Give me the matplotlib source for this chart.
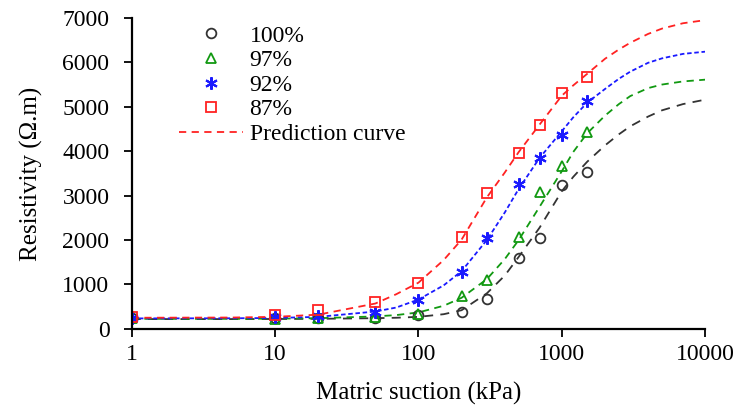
import matplotlib
matplotlib.use('Agg')
import matplotlib.pyplot as plt
from matplotlib.lines import Line2D

plt.rcParams['font.family'] = ['Liberation Serif', 'DejaVu Serif']

# Measured resistivity at each matric suction (kPa)
suction = [1, 10, 20, 50, 100, 200, 300, 500, 700, 1000, 1500]
res_100 = [240, 240, 250, 250, 320, 380, 670, 1590, 2040, 3240, 3540]
res_97 = [240, 225, 240, 260, 340, 740, 1100, 2070, 3070, 3670, 4440]
res_92 = [250, 265, 280, 390, 660, 1290, 2040, 3270, 3840, 4370, 5120]
res_87 = [260, 310, 420, 615, 1040, 2060, 3050, 3960, 4580, 5320, 5670]

# Prediction curves sampled along the suction range
curve_suction = [1, 5, 10, 20, 50, 70, 100, 150, 200, 300, 400, 500, 700, 1000,
                 1200, 1500, 2000, 2500, 3000, 4000, 5000, 7000, 10000]
pred_100 = [220, 220, 222, 226, 240, 250, 270, 330, 420, 800, 1200, 1620, 2280,
            3100, 3420, 3760, 4130, 4380, 4560, 4780, 4920, 5060, 5160]
pred_97 = [225, 226, 230, 240, 280, 310, 370, 520, 700, 1120, 1570, 2000, 2750,
           3550, 3980, 4400, 4800, 5060, 5240, 5420, 5500, 5570, 5610]
pred_92 = [235, 238, 245, 270, 390, 480, 660, 980, 1300, 2000, 2620, 3150, 3850,
           4450, 4760, 5090, 5400, 5630, 5790, 5990, 6090, 6190, 6240]
pred_87 = [250, 255, 270, 320, 570, 780, 1040, 1550, 2010, 2960, 3520, 3980,
           4600, 5250, 5480, 5740, 6080, 6290, 6440, 6640, 6760, 6880, 6950]

fig = plt.figure(figsize=(7.4, 4.07), dpi=100)
ax = fig.add_axes([0.178, 0.192, 0.775, 0.764])

# dashed prediction curves
ax.plot(curve_suction, pred_100, color='#333333', ls=(0, (5, 4)), lw=1.3)
ax.plot(curve_suction, pred_97, color='#119911', ls=(0, (4, 3)), lw=1.3)
ax.plot(curve_suction, pred_92, color='#1a1aff', ls=(0, (2.5, 1.5)), lw=1.3)
ax.plot(curve_suction, pred_87, color='#ff2222', ls=(0, (4, 3)), lw=1.3)

# measured points
ax.plot(suction, res_100, ls='none', marker='o', ms=7, mfc='none', mec='#333333', mew=1.3)
ax.plot(suction, res_97, ls='none', marker='^', ms=7, mfc='none', mec='#119911', mew=1.3)
ax.plot(suction, res_92, ls='none', marker=(6, 2, 0), ms=9, mec='#1a1aff', mew=1.5)
ax.plot(suction, res_87, ls='none', marker='s', ms=6.5, mfc='none', mec='#ff2222', mew=1.3)

ax.set_xscale('log')
ax.set_xlim(1, 10000)
ax.set_ylim(0, 7000)
ax.set_xticks([1, 10, 100, 1000, 10000])
ax.set_xticklabels(['1', '10', '100', '1000', '10000'])
ax.set_yticks(range(0, 7001, 1000))
ax.minorticks_off()
ax.tick_params(axis='x', direction='out', length=6, width=1.3, labelsize=17, pad=5)
ax.tick_params(axis='y', direction='out', length=6, width=1.3, labelsize=17, pad=10)

for side in ['top', 'right']:
    ax.spines[side].set_visible(False)
for side in ['left', 'bottom']:
    ax.spines[side].set_linewidth(1.6)

ax.set_xlabel('Matric suction (kPa)', fontsize=18, labelpad=12)
ax.set_ylabel('Resistivity (\u03a9.m)', fontsize=18, labelpad=14)

handles = [
    Line2D([], [], ls='none', marker='o', ms=7, mfc='none', mec='#333333', mew=1.3),
    Line2D([], [], ls='none', marker='^', ms=7, mfc='none', mec='#119911', mew=1.3),
    Line2D([], [], ls='none', marker=(6, 2, 0), ms=9, mec='#1a1aff', mew=1.5),
    Line2D([], [], ls='none', marker='s', ms=6.5, mfc='none', mec='#ff2222', mew=1.3),
    Line2D([], [], color='#ff2222', ls=(0, (4, 3)), lw=1.3),
]
labels = ['100%', '97%', '92%', '87%', 'Prediction curve']
ax.legend(handles, labels, loc='upper left', bbox_to_anchor=(0.045, 1.045),
          frameon=False, fontsize=17, handlelength=2.7, handletextpad=0.3,
          labelspacing=0.13)

fig.savefig('out.png', dpi=100)
